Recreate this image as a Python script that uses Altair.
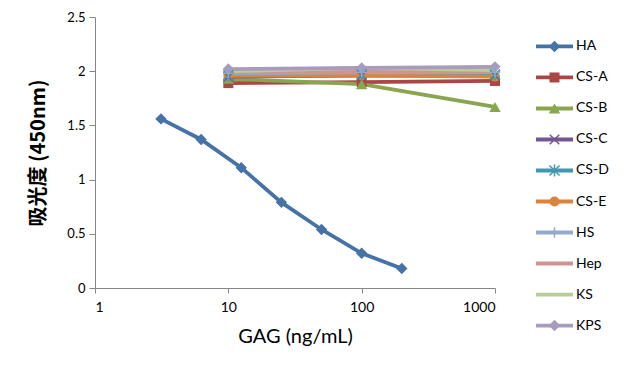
import altair as alt
import pandas as pd

series = ["HA", "CS-A", "CS-B", "CS-C", "CS-D", "CS-E", "HS", "Hep", "KS", "KPS"]
colors = ["#4572A7", "#AA4643", "#89A54E", "#71588F", "#4198AF",
          "#DB843D", "#93A9CF", "#D19392", "#B9CD96", "#A99BBD"]

ha_conc = [3.125, 6.25, 12.5, 25, 50, 100, 200]
ha_od = [1.56, 1.37, 1.11, 0.79, 0.54, 0.32, 0.18]

other_conc = [10, 100, 1000]
csa_od = [1.89, 1.90, 1.91]
csb_od = [1.93, 1.88, 1.67]
csc_od = [1.95, 1.96, 1.96]
csd_od = [1.96, 1.97, 1.97]
cse_od = [1.96, 1.96, 1.95]
hs_od = [1.98, 1.99, 1.99]
hep_od = [1.99, 2.00, 2.00]
ks_od = [2.00, 2.03, 2.01]
kps_od = [2.02, 2.03, 2.04]

x_ticks = [1, 10, 100, 1000]
y_ticks = [0, 0.5, 1, 1.5, 2, 2.5]

X_PATH = "M-1,-1L1,1M-1,1L1,-1"
STAR_PATH = "M-1,-1L1,1M-1,1L1,-1M0,-1.2L0,1.2"
PLUS_PATH = "M-1,0L1,0M0,-1L0,1"
shapes = ["diamond", "square", "triangle-up", X_PATH, STAR_PATH,
          "circle", PLUS_PATH, "", "", "diamond"]
filled = [True, True, True, False, False, True, False, None, None, True]
sizes = [130, 100, 130, 90, 100, 100, 110, 0, 0, 130]

values = {
    "HA": (ha_conc, ha_od), "CS-A": (other_conc, csa_od), "CS-B": (other_conc, csb_od),
    "CS-C": (other_conc, csc_od), "CS-D": (other_conc, csd_od), "CS-E": (other_conc, cse_od),
    "HS": (other_conc, hs_od), "Hep": (other_conc, hep_od), "KS": (other_conc, ks_od),
    "KPS": (other_conc, kps_od),
}

rows = []
for i, s in enumerate(series):
    xs, ys = values[s]
    for x, y in zip(xs, ys):
        rows.append({"series": s, "order": i, "conc": x, "od": y,
                     "shape": shapes[i], "filled": filled[i], "size": sizes[i]})
df = pd.DataFrame(rows)

leg = pd.DataFrame({"series": series, "shape": shapes, "filled": filled, "size": sizes,
                    "order": list(range(len(series)))})

color_scale = alt.Scale(domain=series, range=colors)
AXC = "#868686"
FONT = "Lato"

x_enc = alt.X("conc:Q", scale=alt.Scale(type="log", domain=[1, 1000]),
              axis=alt.Axis(values=x_ticks, format="d", title="GAG (ng/mL)",
                            grid=False, domainColor=AXC, tickColor=AXC, tickSize=5,
                            labelFont=FONT, labelFontSize=14, labelColor="#000",
                            labelPadding=7, titleFont=FONT, titleFontSize=20,
                            titleFontWeight="normal", titleColor="#000", titlePadding=12))
y_enc = alt.Y("od:Q", scale=alt.Scale(domain=[0, 2.5]),
              axis=alt.Axis(values=y_ticks, format="~g", title="吸光度 (450nm)",
                            grid=False, domainColor=AXC, tickColor=AXC, tickSize=6,
                            labelFont=FONT, labelFontSize=13, labelColor="#000",
                            labelPadding=4, titleFont="Noto Sans CJK SC", titleFontSize=20,
                            titleFontWeight="bold", titleColor="#000", titlePadding=18))

base = alt.Chart(df).encode(x=x_enc, y=y_enc,
                            color=alt.Color("series:N", scale=color_scale, legend=None))

lines = base.mark_line(strokeWidth=3.8).encode(detail="series:N", order="conc:Q")
pts_fill = base.transform_filter("datum.filled === true").mark_point(
    filled=True, opacity=1).encode(
    shape=alt.Shape("shape:N", scale=None),
    size=alt.Size("size:Q", scale=None))
pts_stroke = base.transform_filter("datum.filled === false").mark_point(
    filled=False, opacity=1, strokeWidth=1.5).encode(
    shape=alt.Shape("shape:N", scale=None),
    size=alt.Size("size:Q", scale=None))

main = alt.layer(lines, pts_fill, pts_stroke).properties(width=400, height=271)

ly = alt.Y("series:N", scale=alt.Scale(type="point", domain=series, padding=0.95), axis=None)
lbase = alt.Chart(leg).encode(y=ly, color=alt.Color("series:N", scale=color_scale, legend=None))
lrule = lbase.mark_rule(strokeWidth=3.8).encode(x=alt.value(0), x2=alt.value(37))
lfill = lbase.transform_filter("datum.filled === true").mark_point(
    filled=True, opacity=1).encode(x=alt.value(18.5),
                                    shape=alt.Shape("shape:N", scale=None),
                                    size=alt.Size("size:Q", scale=None))
lstroke = lbase.transform_filter("datum.filled === false").mark_point(
    filled=False, opacity=1, strokeWidth=1.5).encode(x=alt.value(18.5),
                                                      shape=alt.Shape("shape:N", scale=None),
                                                      size=alt.Size("size:Q", scale=None))
ltext = alt.Chart(leg).mark_text(align="left", baseline="middle", font=FONT,
                                 fontSize=14, color="#000").encode(
    y=ly, x=alt.value(40), text="series:N")
legend = alt.layer(lrule, lfill, lstroke, ltext).properties(width=75, height=338)

chart = alt.hconcat(main, legend, spacing=30).properties(
    padding={"left": 20, "top": 3, "right": 5, "bottom": 5},
    background="white"
).configure_view(strokeWidth=0, stroke=None)

chart.save("out.html", embed_options={"renderer": "svg", "actions": False})
